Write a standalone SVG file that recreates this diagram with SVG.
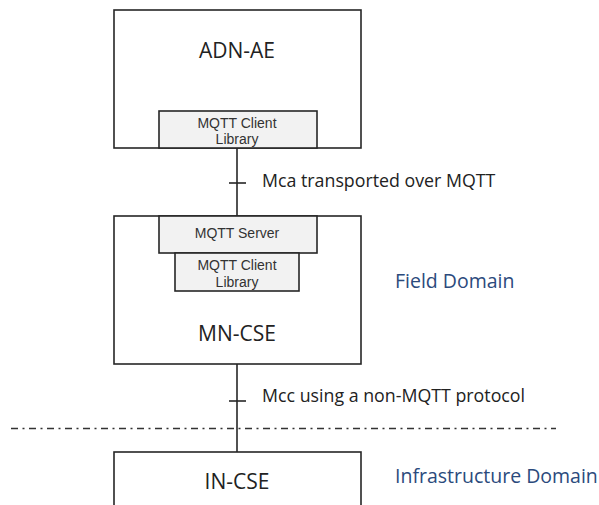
<svg xmlns="http://www.w3.org/2000/svg" width="599" height="505" viewBox="0 0 599 505">
<style>
.box{fill:#fff;stroke:#262626;stroke-width:1.6}
.sub{fill:#f2f2f2;stroke:#262626;stroke-width:1.6}
.ln{stroke:#262626;stroke-width:1.6;fill:none}
.big{font-family:"Open Sans","Liberation Sans",sans-serif;font-size:21px;fill:#222;text-anchor:middle}
.sm{font-family:"Liberation Sans","Open Sans",sans-serif;font-size:14px;fill:#333;text-anchor:middle}
.lab{font-family:"Open Sans","Liberation Sans",sans-serif;font-size:17.8px;fill:#222}
.dom{font-family:"Open Sans","Liberation Sans",sans-serif;font-size:19.5px;fill:#2b4a7c}
</style>
<rect width="599" height="505" fill="#fff"/>
<g id="connectors">
<line class="ln" x1="237" y1="148" x2="237" y2="216"/>
<line class="ln" x1="229" y1="183" x2="246" y2="183"/>
<line class="ln" x1="237" y1="364" x2="237" y2="452"/>
<line class="ln" x1="229" y1="401" x2="246" y2="401"/>
<line x1="11" y1="428.5" x2="556" y2="428.5" stroke="#333" stroke-width="1.5" stroke-dasharray="7 4.5 2 4.5"/>
</g>
<g id="adn-ae">
<rect class="box" x="114" y="10" width="247" height="138"/>
<text class="big" x="237" y="58">ADN-AE</text>
</g>
<g id="adn-mqtt-client">
<rect class="sub" x="159" y="111" width="158" height="37"/>
<text class="sm" x="237" y="127.5">MQTT Client</text>
<text class="sm" x="237" y="144">Library</text>
</g>
<g id="mca-label">
<text class="lab" x="262" y="187">Mca transported over MQTT</text>
</g>
<g id="mn-cse">
<rect class="box" x="114" y="216" width="247" height="148"/>
<text class="big" x="237" y="341">MN-CSE</text>
</g>
<g id="mqtt-server">
<rect class="sub" x="159" y="216" width="158" height="37"/>
<text class="sm" x="237" y="238">MQTT Server</text>
</g>
<g id="mn-mqtt-client">
<rect class="sub" x="175" y="253" width="124" height="38"/>
<text class="sm" x="237" y="270">MQTT Client</text>
<text class="sm" x="237" y="286.5">Library</text>
</g>
<g id="field-domain">
<text class="dom" x="395" y="288">Field Domain</text>
</g>
<g id="mcc-label">
<text class="lab" x="262" y="402">Mcc using a non-MQTT protocol</text>
</g>
<g id="in-cse">
<rect class="box" x="114" y="452" width="247" height="70"/>
<text class="big" x="237" y="489">IN-CSE</text>
</g>
<g id="infrastructure-domain">
<text class="dom" x="395" y="483">Infrastructure Domain</text>
</g>
</svg>
